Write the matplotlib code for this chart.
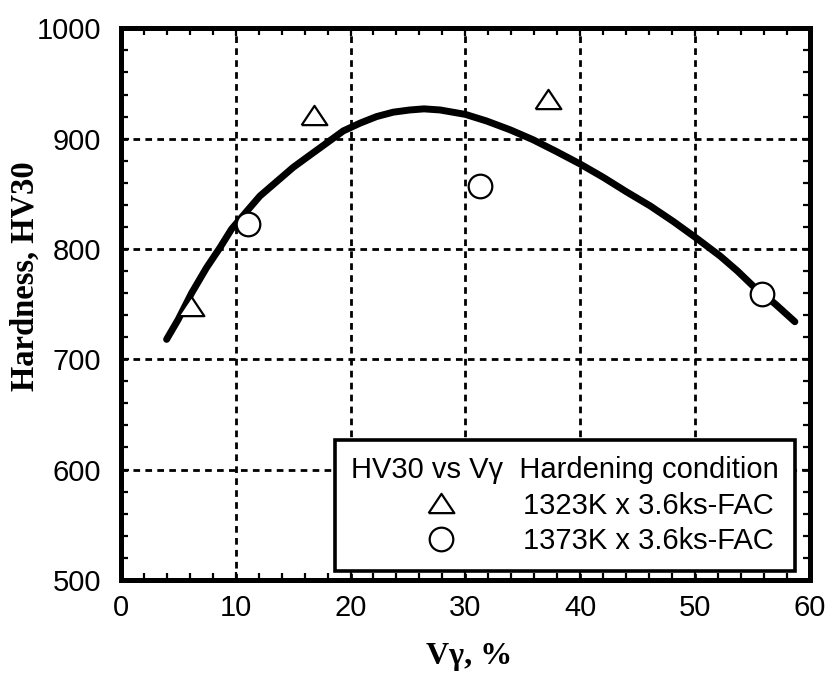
import matplotlib
matplotlib.use("Agg")
import matplotlib.pyplot as plt
from matplotlib.ticker import MultipleLocator
from matplotlib.lines import Line2D

# Measured hardness for the two hardening conditions
vg_1323 = [6.1, 16.8, 37.2]
hv_1323 = [748, 921, 936]
vg_1373 = [11.1, 31.3, 55.8]
hv_1373 = [823, 857, 759]

# Trend curve traced through the data
curve_vg = [3.98, 4.99, 6.16, 7.46, 8.62, 9.64, 10.95, 12.11, 13.56, 15.01, 16.46,
            17.92, 19.37, 20.82, 22.27, 23.72, 25.17, 26.4, 27.8, 30.0, 31.85, 33.9,
            35.9, 37.9, 40.0, 42.0, 44.0, 46.1, 48.1, 50.1, 52.2, 53.7, 55.1, 57.0, 58.7]
curve_hv = [718, 736, 760, 783, 801, 818, 834, 848, 861, 874, 885,
            896, 907, 914, 920, 924, 926, 927, 926, 922, 916, 908,
            899, 888.5, 877, 865, 852, 839, 825, 810, 793.5, 780, 766, 750, 734]

legend_title = "HV30 vs V\u03b3  Hardening condition"
labels = ["1323K x 3.6ks-FAC", "1373K x 3.6ks-FAC"]

sans = ["Liberation Sans", "DejaVu Sans"]
serif = ["Liberation Serif", "DejaVu Serif"]

fig = plt.figure(figsize=(8.28, 6.75), dpi=100)
ax = fig.add_axes([0.146, 0.141, 0.832, 0.817])

tri = [(-1, -0.75), (1, -0.75), (0, 0.75), (-1, -0.75)]

ax.plot(curve_vg, curve_hv, color="black", lw=5.0, solid_capstyle="round",
        solid_joinstyle="round", zorder=3)
ax.plot(vg_1323, hv_1323, linestyle="none", marker=tri, markersize=18.5,
        mfc="white", mec="black", mew=1.6, zorder=4)
ax.plot(vg_1373, hv_1373, linestyle="none", marker="o", markersize=17,
        mfc="white", mec="black", mew=1.6, zorder=4)

ax.set_xlim(0, 60)
ax.set_ylim(500, 1000)
ax.xaxis.set_major_locator(MultipleLocator(10))
ax.xaxis.set_minor_locator(MultipleLocator(2))
ax.yaxis.set_major_locator(MultipleLocator(100))
ax.yaxis.set_minor_locator(MultipleLocator(20))

ax.grid(True, which="major", color="black", lw=2.0, linestyle=(0, (2.4, 1.9)), zorder=1)

ax.tick_params(which="both", direction="in", top=True, right=True, width=1.6, color="black")
ax.tick_params(which="major", length=6)
ax.tick_params(which="minor", length=5)
ax.tick_params(axis="y", which="major", pad=14)
ax.tick_params(axis="x", which="major", pad=10)
for lab in ax.get_xticklabels() + ax.get_yticklabels():
    lab.set_fontfamily(sans)
    lab.set_fontsize(21)

for sp in ax.spines.values():
    sp.set_linewidth(3.6)
    sp.set_zorder(5)

ax.set_xlabel("V\u03b3, %", fontfamily=serif, fontweight="bold", fontsize=23)
ax.set_ylabel("Hardness, HV30", fontfamily=serif, fontweight="bold", fontsize=23.5)
ax.xaxis.set_label_coords(0.506, -0.112)
ax.yaxis.set_label_coords(-0.117, 0.551)

handles = [
    Line2D([], [], linestyle="none", marker=tri, markersize=18.5, mfc="white", mec="black", mew=1.6),
    Line2D([], [], linestyle="none", marker="o", markersize=17, mfc="white", mec="black", mew=1.6),
]
leg = ax.legend(handles, labels, title=legend_title, loc="lower right",
                bbox_to_anchor=(0.978, 0.016), borderaxespad=0,
                prop={"family": sans, "size": 21},
                title_fontproperties={"family": sans, "size": 21},
                frameon=True, fancybox=False, framealpha=1, edgecolor="black",
                handlelength=6.2, handletextpad=-0.3, labelspacing=0.25,
                borderpad=0.55, alignment="left")
leg.get_frame().set_linewidth(2.6)
leg.set_zorder(6)

fig.savefig("out.png", dpi=100, facecolor="white")
